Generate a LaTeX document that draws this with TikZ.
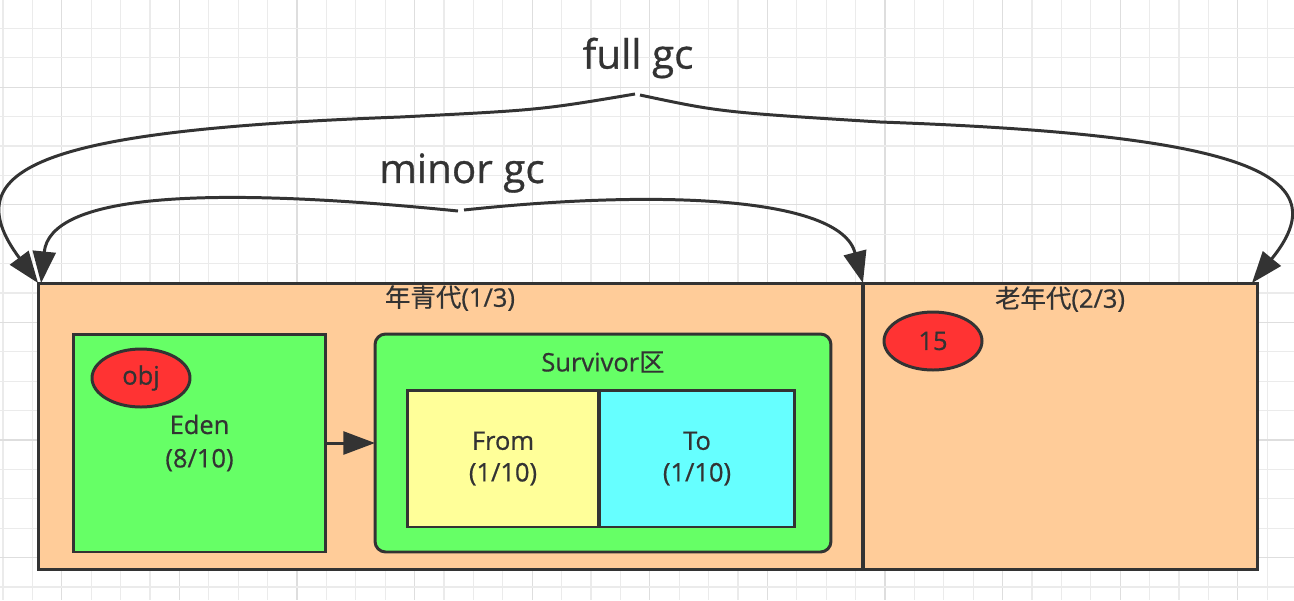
\documentclass[tikz,border=0pt]{standalone}
\usepackage{fontspec}
\setmainfont{Open Sans}[FakeBold=0.7]
\newfontfamily\cjk{Noto Sans CJK SC}[FakeBold=0.4]
\usetikzlibrary{arrows.meta,shapes.geometric}
\definecolor{inkgray}{HTML}{333333}
\definecolor{gridgray}{HTML}{EBEBEB}
\definecolor{gridmajor}{HTML}{DEDEDE}
\definecolor{genorange}{HTML}{FFCC99}
\definecolor{areagreen}{HTML}{66FF66}
\definecolor{fromyellow}{HTML}{FFFF99}
\definecolor{tocyan}{HTML}{66FFFF}
\definecolor{objred}{HTML}{FF3333}
\tikzset{
    genbox/.style={draw=inkgray,line width=1.7pt,fill=genorange,inner sep=0,outer sep=0,minimum height=5.74cm},
    areabox/.style={draw=inkgray,line width=1.7pt,fill=areagreen,inner sep=0,outer sep=0,minimum height=4.36cm,align=center},
    halfbox/.style={draw=inkgray,line width=1.7pt,inner sep=0,outer sep=0,minimum height=2.74cm,align=center,font=\fontsize{14.5}{18}\selectfont},
    objblob/.style={ellipse,draw=inkgray,line width=1.7pt,fill=objred,inner sep=0,minimum width=1.96cm,minimum height=1.16cm},
    gcarrow/.style={draw=inkgray,line width=1.7pt,-{Triangle[length=18pt,width=13pt]}},
    gclabel/.style={font=\fontsize{23}{27}\selectfont}
}
\begin{document}
\begin{tikzpicture}[x=0.02cm,y=-0.02cm,text=inkgray,font=\fontsize{14.5}{19}\selectfont]
    \useasboundingbox[fill=white] (0,0) rectangle (1294,600);
    % background grid
    \foreach \i in {0,...,44}{
        \pgfmathtruncatemacro{\m}{mod(\i,4)}
        \ifnum\m=2 \draw[gridmajor,line width=0.6pt] ({3+29.4*\i},0) -- ({3+29.4*\i},600);
        \else \draw[gridgray,line width=0.6pt] ({3+29.4*\i},0) -- ({3+29.4*\i},600); \fi
    }
    \foreach \j in {1,...,20}{
        \pgfmathtruncatemacro{\m}{mod(\j,4)}
        \ifnum\m=3 \draw[gridmajor,line width=0.6pt] (0,{-1+29.4*\j}) -- (1294,{-1+29.4*\j});
        \else \draw[gridgray,line width=0.6pt] (0,{-1+29.4*\j}) -- (1294,{-1+29.4*\j}); \fi
    }
    % generations
    \node[genbox,minimum width=16.5cm](young) at (450.5,426.5){};
    \node[genbox,minimum width=7.9cm](old) at (1060.5,426.5){};
    \node(younglabel) at (450,298){{\cjk 年青代}(1/3)};
    \node(oldlabel) at (1060,299){{\cjk 老年代}(2/3)};
    % eden and survivor
    \node[areabox,minimum width=5.06cm](eden) at (199.5,443){Eden\\(8/10)};
    \node[areabox,minimum width=9.12cm,rounded corners=6pt](surv) at (603,443){};
    \node(survlabel) at (603,362){Survivor{\cjk 区}};
    \node[halfbox,fill=fromyellow,minimum width=3.84cm](from) at (503,458.5){From\\(1/10)};
    \node[halfbox,fill=tocyan,minimum width=3.92cm](to) at (697,458.5){To\\(1/10)};
    \node[objblob](obj) at (141,378){obj};
    \node[objblob](old15) at (933,341){15};
    \draw[gcarrow] (eden.east) -- (surv.west);
    % gc arcs
    \node[gclabel](fullgc) at (638,58){full gc};
    \node[gclabel](minorgc) at (462,173){minor gc};
    \coordinate (fullL) at (635,94);
    \coordinate (fullR) at (640,95);
    \coordinate (minorL) at (458,211);
    \coordinate (minorR) at (464,210);
    \draw[gcarrow] (fullL) .. controls (540,110) .. (400,117) .. controls (50,130) and (-50,165) .. (young.north west);
    \draw[gcarrow] (fullR) .. controls (720,112) .. (880,122) .. controls (1250,135) and (1340,175) .. ([xshift=-0.12cm]old.north east);
    \draw[gcarrow] (minorL) .. controls (200,185) and (50,195) .. ([xshift=0.06cm]young.north west);
    \draw[gcarrow] (minorR) .. controls (650,190) and (840,195) .. (young.north east);
\end{tikzpicture}
\end{document}
